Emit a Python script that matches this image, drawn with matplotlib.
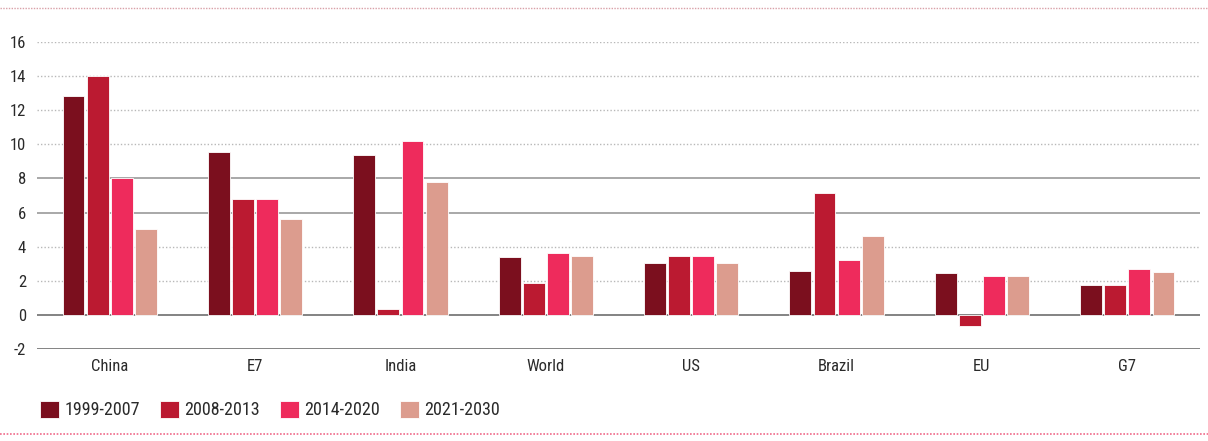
import matplotlib
matplotlib.use("Agg")
import matplotlib.pyplot as plt
from matplotlib import font_manager
import numpy as np

# Average real GDP growth by period (% per year)
regions = ["China", "E7", "India", "World", "US", "Brazil", "EU", "G7"]
periods = ["1999-2007", "2008-2013", "2014-2020", "2021-2030"]
growth_1999_2007 = [12.85, 9.53, 9.40, 3.38, 3.03, 2.56, 2.44, 1.76]
growth_2008_2013 = [14.0, 6.78, 0.37, 1.88, 3.48, 7.13, -0.63, 1.76]
growth_2014_2020 = [8.05, 6.78, 10.22, 3.62, 3.48, 3.24, 2.30, 2.68]
growth_2021_2030 = [5.06, 5.65, 7.82, 3.48, 3.03, 4.61, 2.30, 2.54]
y_ticks = [-2, 0, 2, 4, 6, 8, 10, 12, 14, 16]

series = [growth_1999_2007, growth_2008_2013, growth_2014_2020, growth_2021_2030]
colors = ["#7b0f1e", "#bb1a31", "#ee2b5c", "#dc9c8e"]

# narrow face, first one that is installed
names = {f.name for f in font_manager.fontManager.ttflist}
family = "DejaVu Sans"
for cand in ["Roboto Condensed", "Archivo Narrow", "IBM Plex Sans Condensed",
             "Liberation Sans Narrow"]:
    if cand in names:
        family = cand
        break
plt.rcParams["font.family"] = family

fig = plt.figure(figsize=(12.08, 4.41), dpi=100)
ax = fig.add_axes([37 / 1208, 92 / 441, 1163 / 1208, 307 / 441])

x = np.arange(len(regions))
width = 0.151
step = 0.166
for i, (vals, col) in enumerate(zip(series, colors)):
    offset = (i - 1.5) * step
    ax.bar(x + offset, vals, width, color=col, edgecolor="white",
           linewidth=0.6, label=periods[i], zorder=3)

# grid lines: some solid, some dotted
for yv in y_ticks:
    if yv in (0, -2):
        ax.axhline(yv, color="#7a7a7a", linewidth=1.3, zorder=2)
    elif yv in (6, 8):
        ax.axhline(yv, color="#9a9a9a", linewidth=1.2, zorder=1)
    else:
        ax.axhline(yv, color="#b8b8b8", linewidth=1.0, linestyle=(0, (1, 1.5)), zorder=1)

ax.set_xlim(-0.5, 7.5)
ax.set_ylim(-2, 16)
ax.set_yticks(y_ticks)
ax.set_yticklabels([str(v) for v in y_ticks], fontsize=12, color="#2a2a2a")
ax.set_xticks(x)
ax.set_xticklabels(regions, fontsize=12, color="#2a2a2a")
ax.tick_params(axis="both", length=0)
ax.tick_params(axis="x", pad=7)
ax.tick_params(axis="y", pad=8)
for s in ax.spines.values():
    s.set_visible(False)

leg = fig.legend(loc="center left", bbox_to_anchor=(40 / 1208, 1 - 410 / 441), ncol=4,
                 frameon=False, fontsize=13, handlelength=1.05, handleheight=1.1,
                 columnspacing=1.1, handletextpad=0.3, borderpad=0, borderaxespad=0)
for t in leg.get_texts():
    t.set_color("#2a2a2a")

# thin dotted rules framing the figure
fig.add_artist(plt.Line2D([0.0, 1.0], [1 - 8 / 441, 1 - 8 / 441], transform=fig.transFigure,
                          color="#d9a0a8", linewidth=1.0, linestyle=(0, (1, 1))))
fig.add_artist(plt.Line2D([0.0, 1.0], [7 / 441, 7 / 441], transform=fig.transFigure,
                          color="#f06a8a", linewidth=1.2, linestyle=(0, (1, 1))))

fig.savefig("out.png", dpi=100)
